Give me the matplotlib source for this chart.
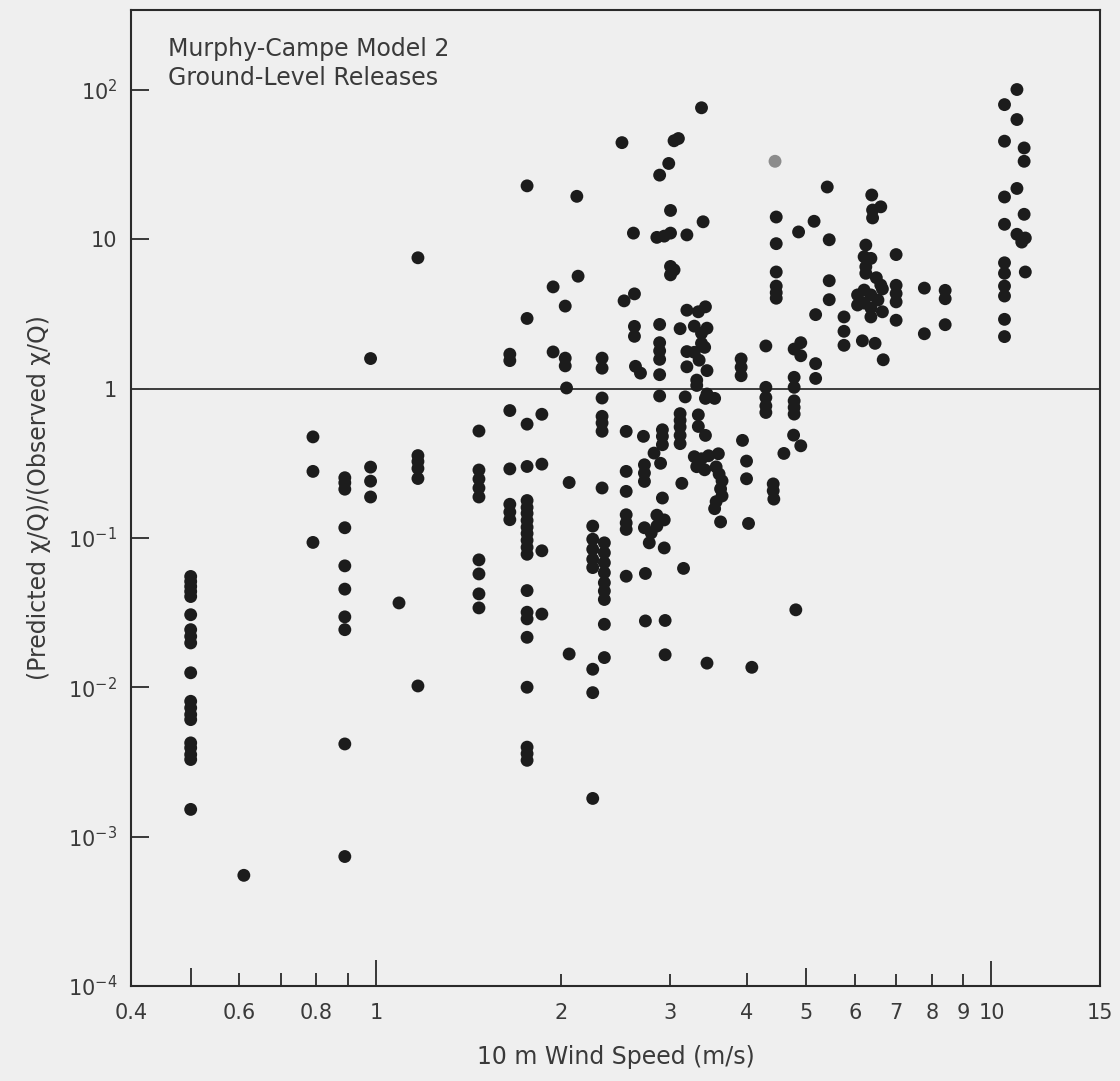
import matplotlib
matplotlib.use('Agg')
import matplotlib.pyplot as plt
from matplotlib.ticker import NullLocator

plt.rcParams['font.family'] = ['DejaVu Sans']
plt.rcParams['mathtext.fontset'] = 'dejavusans'

# (wind speed m/s, predicted/observed chi/Q)
low_points = [
    (0.50, 0.0552), (0.50, 0.0511), (0.50, 0.0473), (0.50, 0.0438), (0.50, 0.0405),
    (0.50, 0.0306), (0.50, 0.0243), (0.50, 0.0219), (0.50, 0.0198), (0.50, 0.0125),
    (0.50, 0.00805), (0.50, 0.00728), (0.50, 0.00656), (0.50, 0.00607), (0.50, 0.00424),
    (0.50, 0.00393), (0.50, 0.00354), (0.50, 0.00328), (0.50, 0.00152),
    (0.61, 0.00055),
    (0.79, 0.475), (0.79, 0.279), (0.79, 0.0933),
    (0.89, 0.253), (0.89, 0.234), (0.89, 0.212), (0.89, 0.117), (0.89, 0.065),
    (0.89, 0.0454), (0.89, 0.0296), (0.89, 0.0243), (0.89, 0.00417), (0.89, 0.000735),
    (0.98, 1.59), (0.98, 0.298), (0.98, 0.240), (0.98, 0.188),
    (1.09, 0.0367),
    (1.17, 7.52), (1.17, 0.356), (1.17, 0.325), (1.17, 0.292), (1.17, 0.250), (1.17, 0.0102),
]

mid_points = [
    (1.47, 0.52), (1.47, 0.285), (1.47, 0.248), (1.47, 0.216), (1.47, 0.188),
    (1.47, 0.0713), (1.47, 0.0574), (1.47, 0.0422), (1.47, 0.034),
    (1.65, 1.70), (1.65, 1.54), (1.65, 0.713), (1.65, 0.29), (1.65, 0.168),
    (1.65, 0.149), (1.65, 0.1325),
    (1.76, 22.8), (1.76, 2.95), (1.76, 0.578), (1.76, 0.301), (1.76, 0.178),
    (1.76, 0.160), (1.76, 0.146), (1.76, 0.131), (1.76, 0.118), (1.76, 0.107),
    (1.76, 0.0964), (1.76, 0.0865), (1.76, 0.0777), (1.76, 0.0444), (1.76, 0.0318),
    (1.76, 0.0287), (1.76, 0.0216), (1.76, 0.0100), (1.76, 0.00397), (1.76, 0.00359),
    (1.76, 0.00324),
    (1.86, 0.673), (1.86, 0.312), (1.86, 0.082), (1.86, 0.0309),
    (1.94, 4.8), (1.94, 1.76), (2.03, 3.57), (2.03, 1.60), (2.03, 1.42),
    (2.04, 1.01), (2.06, 0.235), (2.06, 0.0167), (2.12, 19.4), (2.13, 5.66),
]

center_points = [
    (2.25, 0.120), (2.25, 0.098), (2.25, 0.084), (2.25, 0.072), (2.25, 0.0633),
    (2.25, 0.0132), (2.25, 0.0092), (2.25, 0.0018),
    (2.35, 0.0927), (2.35, 0.0795), (2.35, 0.0682), (2.35, 0.0585), (2.35, 0.0501),
    (2.35, 0.0441), (2.35, 0.0387), (2.35, 0.0264), (2.35, 0.0158),
    (2.33, 1.60), (2.33, 1.37), (2.33, 0.865), (2.33, 0.652), (2.33, 0.589),
    (2.33, 0.518), (2.33, 0.216),
    (2.51, 44.4), (2.53, 3.87), (2.63, 4.31), (2.62, 11.0), (2.63, 2.61),
    (2.63, 2.24), (2.64, 1.41), (2.69, 1.27),
    (2.55, 0.517), (2.55, 0.279), (2.55, 0.205), (2.55, 0.143), (2.55, 0.126),
    (2.55, 0.114), (2.55, 0.0554),
    (2.72, 0.479), (2.73, 0.309), (2.73, 0.272), (2.73, 0.239), (2.73, 0.117),
    (2.80, 0.108), (2.86, 0.12), (2.78, 0.0927), (2.83, 0.37), (2.90, 0.316),
    (2.92, 0.53), (2.92, 0.479), (2.92, 0.421), (2.92, 0.185), (2.86, 0.142),
    (2.94, 0.132), (2.94, 0.0857), (2.74, 0.0578), (2.74, 0.0278), (2.95, 0.028),
    (2.95, 0.0165),
    (2.89, 2.69), (2.89, 2.03), (2.89, 1.79), (2.89, 1.57), (2.89, 1.24), (2.89, 0.893),
    (2.89, 26.9), (2.99, 32.2), (3.05, 45.7), (3.10, 47.3), (3.01, 15.6),
    (2.86, 10.3), (2.94, 10.5), (3.01, 11.0), (3.01, 6.58), (3.05, 6.24), (3.01, 5.78),
]

upper_points = [
    (3.12, 2.52), (3.12, 0.68), (3.12, 0.613), (3.12, 0.553), (3.12, 0.486),
    (3.12, 0.428), (3.14, 0.232), (3.16, 0.0625), (3.18, 0.88), (3.20, 10.7),
    (3.20, 3.35), (3.20, 1.77), (3.20, 1.40), (3.32, 1.14), (3.32, 1.05),
    (3.34, 3.27), (3.43, 3.53), (3.29, 2.62), (3.38, 2.35), (3.45, 2.54),
    (3.38, 2.01), (3.29, 1.75), (3.42, 1.89), (3.35, 1.55), (3.45, 1.32),
    (3.38, 76.0), (3.40, 13.1), (3.34, 0.667), (3.34, 0.558), (3.43, 0.486),
    (3.43, 0.86), (3.55, 0.86), (3.45, 0.92), (3.29, 0.35), (3.38, 0.339),
    (3.47, 0.355), (3.32, 0.30), (3.42, 0.286), (3.60, 0.366), (3.57, 0.299),
    (3.61, 0.268), (3.65, 0.241), (3.63, 0.213), (3.65, 0.191), (3.57, 0.175),
    (3.55, 0.157), (3.63, 0.128), (3.45, 0.0145),
]

right_points = [
    (3.92, 1.58), (3.92, 1.39), (3.92, 1.22), (3.94, 0.45), (4.00, 0.327),
    (4.00, 0.249), (4.03, 0.125), (4.08, 0.0136),
    (4.47, 14.1), (4.47, 9.35), (4.47, 6.04), (4.47, 4.86), (4.47, 4.39), (4.47, 4.03),
    (4.30, 1.93), (4.30, 1.02), (4.30, 0.871), (4.30, 0.766), (4.30, 0.692),
    (4.42, 0.23), (4.42, 0.207), (4.43, 0.182),
    (4.60, 0.368), (4.77, 0.488), (4.90, 0.414), (4.78, 1.84), (4.90, 2.03),
    (4.90, 1.66), (4.78, 1.19), (4.78, 1.02), (4.78, 0.828), (4.78, 0.748),
    (4.78, 0.675), (4.86, 11.2), (4.81, 0.033),
    (5.15, 13.2), (5.18, 3.13), (5.18, 1.47), (5.18, 1.17), (5.41, 22.4),
    (5.45, 9.93), (5.45, 5.28), (5.45, 3.94),
    (5.76, 3.02), (5.76, 2.42), (5.76, 1.95),
]

far_points = [
    (6.17, 2.09), (6.47, 2.01), (6.67, 1.56), (6.39, 19.8), (6.61, 16.5),
    (6.41, 15.7), (6.41, 13.9), (6.25, 9.15), (6.21, 7.64), (6.37, 7.45),
    (6.25, 6.55), (6.25, 5.92), (6.50, 5.53), (6.61, 4.94), (6.65, 4.65),
    (6.06, 4.24), (6.21, 4.57), (6.37, 4.24), (6.54, 3.92), (6.21, 3.74),
    (6.37, 3.47), (6.06, 3.63), (6.37, 3.02), (6.65, 3.27),
    (7.00, 7.9), (7.00, 4.92), (7.00, 4.33), (7.00, 3.81), (7.00, 2.87),
    (7.78, 4.71), (7.78, 2.33), (8.41, 4.55), (8.41, 4.0), (8.41, 2.68),
    (10.5, 79.8), (10.5, 45.4), (10.5, 19.2), (10.5, 12.6), (10.5, 6.96),
    (10.5, 5.92), (10.5, 4.86), (10.5, 4.17), (10.5, 2.91), (10.5, 2.23),
    (11.0, 100.7), (11.0, 63.4), (11.3, 40.9), (11.3, 33.3), (11.0, 21.9),
    (11.3, 14.7), (11.0, 10.8), (11.35, 10.2), (11.2, 9.58), (11.35, 6.04),
]

# one point printed faint in the original
faded_points = [(4.45, 33.3)]

x_ticks = [0.4, 0.6, 0.8, 1, 2, 3, 4, 5, 6, 7, 8, 9, 10, 15]
x_tick_labels = ['0.4', '0.6', '0.8', '1', '2', '3', '4', '5', '6', '7', '8', '9', '10', '15']
x_marks = [0.5, 0.6, 0.7, 0.8, 0.9, 1, 2, 3, 4, 5, 6, 7, 8, 9, 10]
y_ticks = [1e-4, 1e-3, 1e-2, 1e-1, 1, 10, 100]
y_tick_labels = ['$10^{-4}$', '$10^{-3}$', '$10^{-2}$', '$10^{-1}$', '1', '10', '$10^{2}$']

ink = '#2a2a2a'
text_col = '#3a3a3a'
paper = '#efefef'

fig = plt.figure(figsize=(11.2, 10.81), dpi=100, facecolor=paper)
ax = fig.add_axes([0.117, 0.088, 0.865, 0.9027])
ax.set_facecolor(paper)
ax.set_xscale('log')
ax.set_yscale('log')

all_points = low_points + mid_points + center_points + upper_points + right_points + far_points
speed = [p[0] for p in all_points]
ratio = [p[1] for p in all_points]
ax.scatter(speed, ratio, s=86, c='#1c1c1c', edgecolors='none', zorder=3)
ax.scatter([p[0] for p in faded_points], [p[1] for p in faded_points],
           s=86, c='#8c8c8c', edgecolors='none', zorder=3)

ax.axhline(1, color='#3c3c3c', lw=1.4, zorder=2)

ax.set_xlim(0.4, 15)
ax.set_ylim(1e-4, 343)

for side in ax.spines.values():
    side.set_color(ink)
    side.set_linewidth(1.5)

# x: labels only, marks drawn by hand (inward, mixed lengths)
ax.set_xticks(x_ticks)
ax.set_xticklabels(x_tick_labels)
ax.xaxis.set_minor_locator(NullLocator())
ax.tick_params(axis='x', length=0, pad=12, labelsize=15, labelcolor=text_col)
mark_len = [18, 13, 13, 13, 13, 26, 12, 12, 13, 18, 12, 12, 12, 12, 25]
ax_h = 0.9027 * 1081
ax.vlines(x_marks, 0, [m / ax_h for m in mark_len], transform=ax.get_xaxis_transform(),
          colors=ink, lw=1.3, zorder=2)

ax.set_yticks(y_ticks)
ax.set_yticklabels(y_tick_labels)
ax.yaxis.set_minor_locator(NullLocator())
ax.tick_params(axis='y', direction='in', length=13, width=1.3, color=ink,
               pad=10, labelsize=15, labelcolor=text_col)

ax.set_xlabel('10 m Wind Speed (m/s)', fontsize=17, color=text_col, labelpad=16)
ax.set_ylabel('(Predicted χ/Q)/(Observed χ/Q)', fontsize=17, color=text_col, labelpad=12)

ax.text(0.038, 0.972, 'Murphy-Campe Model 2\nGround-Level Releases', transform=ax.transAxes,
        ha='left', va='top', fontsize=17, color=text_col, linespacing=1.25)

fig.savefig('out.png', dpi=100, facecolor=paper)
